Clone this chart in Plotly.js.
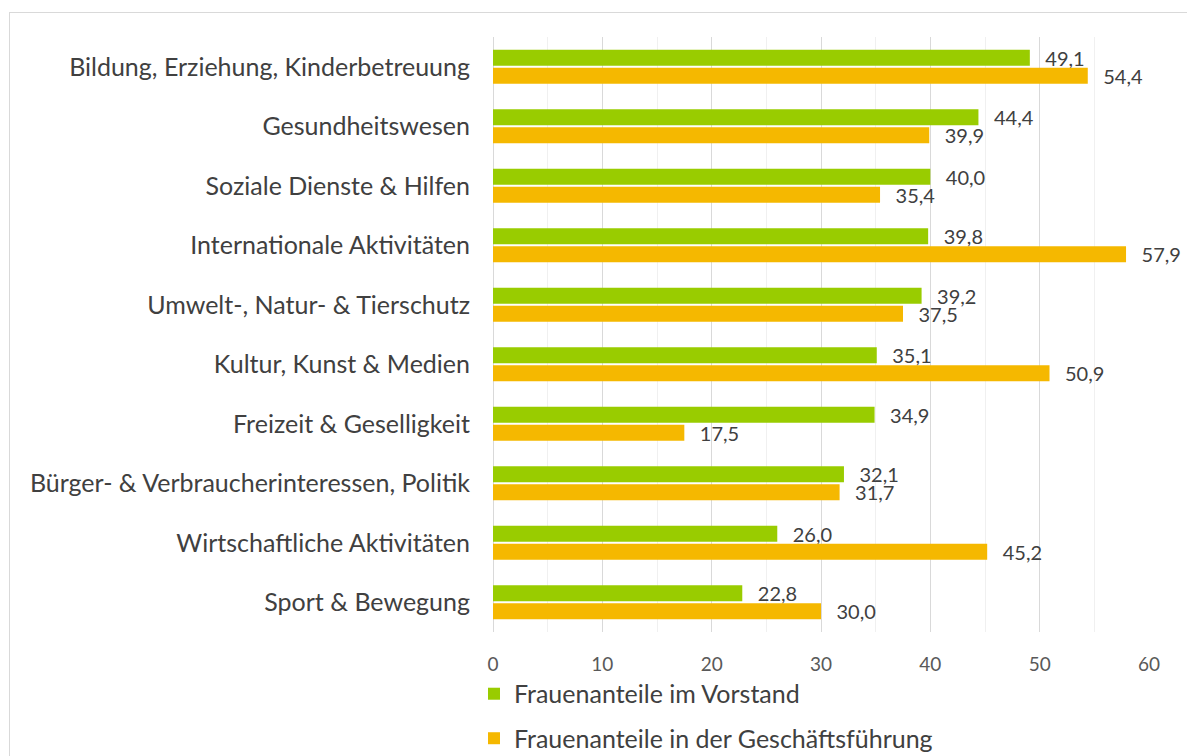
<!DOCTYPE html>
<html>
<head>
<meta charset="utf-8">
<script src="https://cdn.plot.ly/plotly-3.0.1.min.js"></script>
<style>
  html, body { margin: 0; padding: 0; background: #fff; }
  #chart { width: 1187px; height: 756px; }
  #frame { position: absolute; left: 9px; top: 12px; width: 1200px; height: 800px;
           border: 1px solid #d9d9d9; pointer-events: none; }
</style>
</head>
<body>
<div id="chart"></div>
<div id="frame"></div>
<script>
const categories = [
  "Bildung, Erziehung, Kinderbetreuung",
  "Gesundheitswesen",
  "Soziale Dienste & Hilfen",
  "Internationale Aktivitäten",
  "Umwelt-, Natur- & Tierschutz",
  "Kultur, Kunst & Medien",
  "Freizeit & Geselligkeit",
  "Bürger- & Verbraucherinteressen, Politik",
  "Wirtschaftliche Aktivitäten",
  "Sport & Bewegung"
];
const vorstand = [49.1, 44.4, 40.0, 39.8, 39.2, 35.1, 34.9, 32.1, 26.0, 22.8];
const geschaeftsfuehrung = [54.4, 39.9, 35.4, 57.9, 37.5, 50.9, 17.5, 31.7, 45.2, 30.0];
const seriesNames = ["Frauenanteile im Vorstand", "Frauenanteile in der Geschäftsführung"];
const xTicks = [0, 10, 20, 30, 40, 50, 60];

const FONT = "Lato, 'Open Sans', sans-serif";
const pad = "\u2002\u2009";

const traces = [
  {
    type: "bar", orientation: "h", name: seriesNames[0],
    y: categories, x: vorstand,
    marker: { color: "#99cc00" },
    text: vorstand.map(v => pad + v.toFixed(1).replace(".", ",")),
    textposition: "outside", constraintext: "none", cliponaxis: false,
    textfont: { family: FONT, size: 20, color: "#404040" },
    hoverinfo: "none", legendgroup: "a"
  },
  {
    type: "bar", orientation: "h", name: seriesNames[1],
    y: categories, x: geschaeftsfuehrung,
    marker: { color: "#f5b800" },
    text: geschaeftsfuehrung.map(v => pad + v.toFixed(1).replace(".", ",")),
    textposition: "outside", constraintext: "none", cliponaxis: false,
    textfont: { family: FONT, size: 20, color: "#404040" },
    hoverinfo: "none", legendgroup: "b"
  }
];

const layout = {
  width: 1187, height: 756,
  margin: { l: 493, r: 38, t: 37, b: 124, autoexpand: false },
  paper_bgcolor: "#fff", plot_bgcolor: "#fff",
  font: { family: FONT, color: "#404040" },
  barmode: "group", bargap: 0.4, bargroupgap: 0.1,
  showlegend: true,
  xaxis: {
    range: [0, 60], tickvals: xTicks, ticktext: xTicks.map(String),
    showgrid: true, gridcolor: "#d9d9d9", gridwidth: 1,
    minor: { dtick: 5, showgrid: true, gridcolor: "#f0f0f0", gridwidth: 1 },
    zeroline: true, zerolinecolor: "#d9d9d9", zerolinewidth: 1,
    showline: false, ticks: "", ticklabelstandoff: 19,
    tickfont: { family: FONT, size: 19, color: "#595959" },
    fixedrange: true
  },
  yaxis: {
    autorange: "reversed", type: "category",
    showgrid: false, zeroline: false, showline: false, ticks: "",
    ticklabelstandoff: 22,
    tickfont: { family: FONT, size: 25, color: "#404040" },
    fixedrange: true
  },
  legend: {
    orientation: "v", x: -0.029, xanchor: "left", y: -0.0655, yanchor: "top",
    traceorder: "grouped", tracegroupgap: 9,
    font: { family: FONT, size: 25, color: "#404040" },
    bgcolor: "rgba(0,0,0,0)"
  }
};

Plotly.newPlot("chart", traces, layout, { displayModeBar: false, staticPlot: true });
</script>
</body>
</html>
